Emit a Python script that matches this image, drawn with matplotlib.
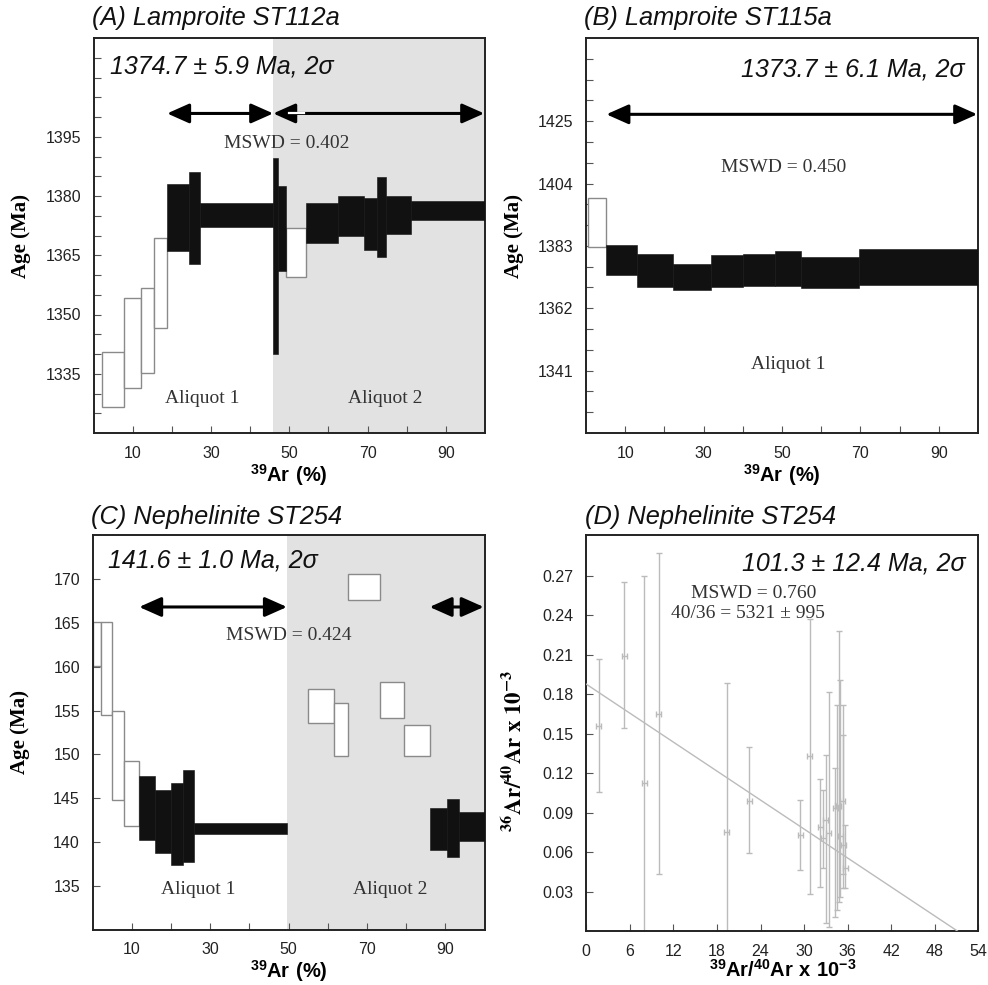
import matplotlib

matplotlib.use("Agg")
import matplotlib.pyplot as plt
import numpy as np

SANS = "Liberation Sans"
SERIF = "Liberation Serif"

plt.rcParams["font.family"] = [SANS, "DejaVu Sans"]
plt.rcParams["mathtext.fontset"] = "custom"
plt.rcParams["mathtext.rm"] = "Liberation Sans"
plt.rcParams["mathtext.bf"] = "Liberation Sans:bold"

# (A) Lamproite ST112a - step heating, cumulative 39Ar (%) and 2 sigma age bounds (Ma)
a_x0 = [2.1, 7.7, 12.2, 15.4, 18.7, 24.5, 27.2, 45.9, 47.1, 49.2, 54.2, 62.4, 69.0, 72.5, 74.6, 81.0]
a_x1 = [7.7, 12.2, 15.4, 18.7, 24.5, 27.2, 45.9, 47.1, 49.2, 54.2, 62.4, 69.0, 72.5, 74.6, 81.0, 100.0]
a_lo = [1326.5, 1331.4, 1335.3, 1346.7, 1366.0, 1362.8, 1372.1, 1340.1, 1360.9, 1359.6,
        1368.1, 1369.8, 1366.4, 1364.5, 1370.3, 1374.0]
a_hi = [1340.5, 1354.2, 1356.8, 1369.4, 1383.1, 1386.1, 1378.2, 1389.5, 1382.5, 1371.9,
        1378.2, 1379.9, 1379.5, 1384.8, 1380.1, 1378.7]
a_used = [0, 0, 0, 0, 1, 1, 1, 1, 1, 0, 1, 1, 1, 1, 1, 1]

# (B) Lamproite ST115a
b_x0 = [0.4, 5.05, 12.9, 22.3, 31.9, 40.0, 48.2, 54.9, 69.7]
b_x1 = [5.05, 12.9, 22.3, 31.9, 40.0, 48.2, 54.9, 69.7, 100.0]
b_lo = [1382.7, 1373.2, 1369.2, 1368.1, 1369.2, 1369.6, 1369.4, 1368.9, 1370.0]
b_hi = [1399.0, 1383.3, 1380.4, 1376.9, 1379.9, 1380.2, 1381.3, 1379.1, 1381.9]
b_used = [0, 1, 1, 1, 1, 1, 1, 1, 1]

# (C) Nephelinite ST254
c_x0 = [0.0, 2.1, 5.0, 7.95, 11.9, 15.9, 19.9, 23.1, 25.9, 55.1, 61.5, 65.2, 73.3, 79.4, 86.0, 90.5, 93.6]
c_x1 = [2.1, 5.0, 7.95, 11.9, 15.9, 19.9, 23.1, 25.9, 49.6, 61.5, 65.2, 73.3, 79.4, 86.0, 90.5, 93.6, 100.0]
c_lo = [160.1, 154.5, 144.8, 141.85, 140.25, 138.8, 137.4, 137.8, 140.9,
        153.6, 149.8, 167.6, 154.1, 149.8, 139.1, 138.35, 140.1]
c_hi = [165.05, 165.05, 155.0, 149.3, 147.6, 146.0, 146.8, 148.2, 142.2,
        157.4, 155.9, 170.6, 158.3, 153.3, 143.9, 144.9, 143.4]
c_used = [0, 0, 0, 0, 1, 1, 1, 1, 1, 0, 0, 0, 0, 0, 1, 1, 1]

# (D) Nephelinite ST254 inverse isochron: 39Ar/40Ar, 36Ar/40Ar (x 10^-3)
d_x = [1.72, 5.2, 7.97, 10.0, 19.33, 22.45, 29.5, 30.8, 32.2, 32.65, 33.0, 33.4,
       34.3, 34.6, 34.8, 35.0, 35.3, 35.4, 35.7]
d_y = [0.156, 0.209, 0.1125, 0.165, 0.075, 0.099, 0.073, 0.1327, 0.0794, 0.0706, 0.0845, 0.0744,
       0.0934, 0.096, 0.0947, 0.072, 0.0985, 0.0655, 0.048]
d_ylo = [0.106, 0.154, -0.05, 0.043, -0.05, 0.059, 0.0465, 0.028, 0.0338, 0.048, 0.006, 0.0033,
         0.011, 0.016, 0.022, 0.0262, 0.0326, 0.043, 0.0325]
d_yhi = [0.207, 0.265, 0.2695, 0.287, 0.1885, 0.140, 0.0997, 0.237, 0.1157, 0.1073, 0.134, 0.182,
         0.1238, 0.172, 0.2277, 0.191, 0.172, 0.149, 0.0807]
d_xerr = 0.35
d_intercept = 0.1876
d_slope = -0.00367

FILL = "#111111"
SHADE = "#e2e2e2"
ERR = "#bbbbbb"

fig = plt.figure(figsize=(9.88, 9.85), dpi=100)


def add_axes(left, top, width, height):
    return fig.add_axes([left / 988, 1 - (top + height) / 985, width / 988, height / 985])


def style_axes(ax, xticks, xlabels, yticks, ylabels):
    ax.set_xticks(xticks)
    ax.set_xticklabels(xlabels)
    ax.set_yticks(yticks)
    ax.set_yticklabels(ylabels)
    ax.tick_params(direction="in", length=5, width=0.8, color="#555555",
                   labelsize=11.5, labelcolor="#222222", pad=9)
    for s in ax.spines.values():
        s.set_linewidth(1.4)
        s.set_color("#222222")


def draw_steps(ax, x0, x1, lo, hi, used):
    x0 = np.array(x0)
    x1 = np.array(x1)
    lo = np.array(lo)
    hi = np.array(hi)
    used = np.array(used, dtype=bool)
    ax.bar(x0[~used], (hi - lo)[~used], width=(x1 - x0)[~used], bottom=lo[~used], align="edge",
           color="white", edgecolor="#8a8a8a", linewidth=1.0, zorder=2)
    ax.bar(x0[used], (hi - lo)[used], width=(x1 - x0)[used], bottom=lo[used], align="edge",
           color=FILL, edgecolor=FILL, linewidth=0.4, zorder=3)


def double_arrow(ax, xa, xb, y):
    ax.annotate("", xy=(xb, y), xytext=(xa, y),
                arrowprops=dict(arrowstyle="<|-|>,head_length=0.9,head_width=0.4",
                                color="black", lw=2.2, shrinkA=0, shrinkB=0,
                                mutation_scale=15), zorder=5)


def title(ax, text, y):
    ax.text(-0.004, y, text, transform=ax.transAxes, fontsize=18.3, style="italic",
            ha="left", va="center", color="#111111")


def age_text(ax, x, y, text, ha):
    ax.text(x, y, text, fontsize=18, style="italic", ha=ha, va="center", color="#111111", zorder=6)


def serif_text(ax, x, y, text):
    ax.text(x, y, text, fontsize=14, family=SERIF, ha="center", va="center", color="#333333", zorder=6)


def ylabel(ax, text, y=0.5):
    ax.text(-0.184, y, text, transform=ax.transAxes, rotation=90, fontsize=15, family=SERIF,
            weight="bold", ha="center", va="center")


def xlabel(ax, text, y):
    ax.text(0.5, y, text, transform=ax.transAxes, fontsize=14.5, ha="center", va="center")


xlab_steps = r"${}^{\mathbf{39}}\mathbf{Ar\ (\%)}$"
x_ticks = list(range(10, 100, 10))
x_labels = ["10", "", "30", "", "50", "", "70", "", "90"]

# ---- (A)
ax = add_axes(93.5, 38, 391.5, 395)
ax.set_xlim(0, 100)
ax.set_ylim(1320, 1420)
ax.axvspan(45.9, 100, color=SHADE, zorder=0, lw=0)
draw_steps(ax, a_x0, a_x1, a_lo, a_hi, a_used)
a_yt = list(range(1325, 1416, 5))
style_axes(ax, x_ticks, x_labels, a_yt, [str(v) if (v - 1335) % 15 == 0 and v <= 1395 else "" for v in a_yt])
double_arrow(ax, 18.8, 45.9, 1400.9)
double_arrow(ax, 45.9, 99.8, 1400.9)
ax.plot([50.0, 53.7], [1400.9, 1400.9], color="white", lw=1.6, zorder=6)
serif_text(ax, 49.4, 1393.4, "MSWD = 0.402")
serif_text(ax, 27.7, 1328.7, "Aliquot 1")
serif_text(ax, 74.5, 1328.7, "Aliquot 2")
age_text(ax, 4.2, 1412.8, "1374.7 ± 5.9 Ma, 2σ", "left")
title(ax, "(A) Lamproite ST112a", 1.051)
ylabel(ax, "Age (Ma)")
xlabel(ax, xlab_steps, -0.106)

# ---- (B)
ax = add_axes(586, 38, 392, 395)
ax.set_xlim(0, 100)
ax.set_ylim(1320, 1453)
draw_steps(ax, b_x0, b_x1, b_lo, b_hi, b_used)
b_yt = list(range(1327, 1447, 7))
style_axes(ax, x_ticks, x_labels, b_yt,
           [str(v) if (v - 1341) % 21 == 0 and v <= 1425 else "" for v in b_yt])
double_arrow(ax, 5.2, 99.8, 1427.3)
serif_text(ax, 50.4, 1409.3, "MSWD = 0.450")
serif_text(ax, 51.6, 1342.9, "Aliquot 1")
age_text(ax, 96.5, 1442.4, "1373.7 ± 6.1 Ma, 2σ", "right")
title(ax, "(B) Lamproite ST115a", 1.051)
ylabel(ax, "Age (Ma)")
xlabel(ax, xlab_steps, -0.106)

# ---- (C)
ax = add_axes(92.5, 535, 392, 395)
ax.set_xlim(0, 100)
ax.set_ylim(130, 175)
ax.axvspan(49.6, 100, color=SHADE, zorder=0, lw=0)
draw_steps(ax, c_x0, c_x1, c_lo, c_hi, c_used)
c_yt = list(range(135, 171, 5))
style_axes(ax, x_ticks, x_labels, c_yt, [str(v) for v in c_yt])
double_arrow(ax, 11.9, 49.6, 166.8)
double_arrow(ax, 86.0, 99.8, 166.8)
serif_text(ax, 50.0, 163.5, "MSWD = 0.424")
serif_text(ax, 27.0, 134.6, "Aliquot 1")
serif_text(ax, 76.0, 134.6, "Aliquot 2")
age_text(ax, 3.9, 172.1, "141.6 ± 1.0 Ma, 2σ", "left")
title(ax, "(C) Nephelinite ST254", 1.046)
ylabel(ax, "Age (Ma)")
xlabel(ax, xlab_steps, -0.103)

# ---- (D)
ax = add_axes(586.3, 535, 392, 396)
ax.set_xlim(0, 54)
ax.set_ylim(0, 0.301)
d_y_arr = np.array(d_y)
yerr = [d_y_arr - np.array(d_ylo), np.array(d_yhi) - d_y_arr]
ax.errorbar(d_x, d_y, yerr=yerr, xerr=d_xerr, fmt="none", ecolor=ERR, elinewidth=1.0,
            capsize=2.5, capthick=1.0, zorder=2)
xl = np.array([0, -d_intercept / d_slope])
ax.plot(xl, d_intercept + d_slope * xl, color=ERR, lw=1.0, zorder=3)
d_xt = list(range(0, 55, 6))
d_yt = [0.03, 0.06, 0.09, 0.12, 0.15, 0.18, 0.21, 0.24, 0.27]
style_axes(ax, d_xt, [str(v) for v in d_xt], d_yt, [f"{v:.2f}" for v in d_yt])
serif_text(ax, 23.1, 0.2566, "MSWD = 0.760")
serif_text(ax, 22.3, 0.2414, "40/36 = 5321 ± 995")
age_text(ax, 52.3, 0.2794, "101.3 ± 12.4 Ma, 2σ", "right")
title(ax, "(D) Nephelinite ST254", 1.046)
ax.text(-0.184, 0.455, r"$\mathbf{{}^{36}Ar/{}^{40}Ar\ x\ 10^{-3}}$", transform=ax.transAxes,
        rotation=90, fontsize=16.5, math_fontfamily="stix", ha="center", va="center")
xlabel(ax, r"$\mathbf{{}^{39}Ar/{}^{40}Ar\ x\ 10^{-3}}$", -0.097)

fig.savefig("out.png", dpi=100)
